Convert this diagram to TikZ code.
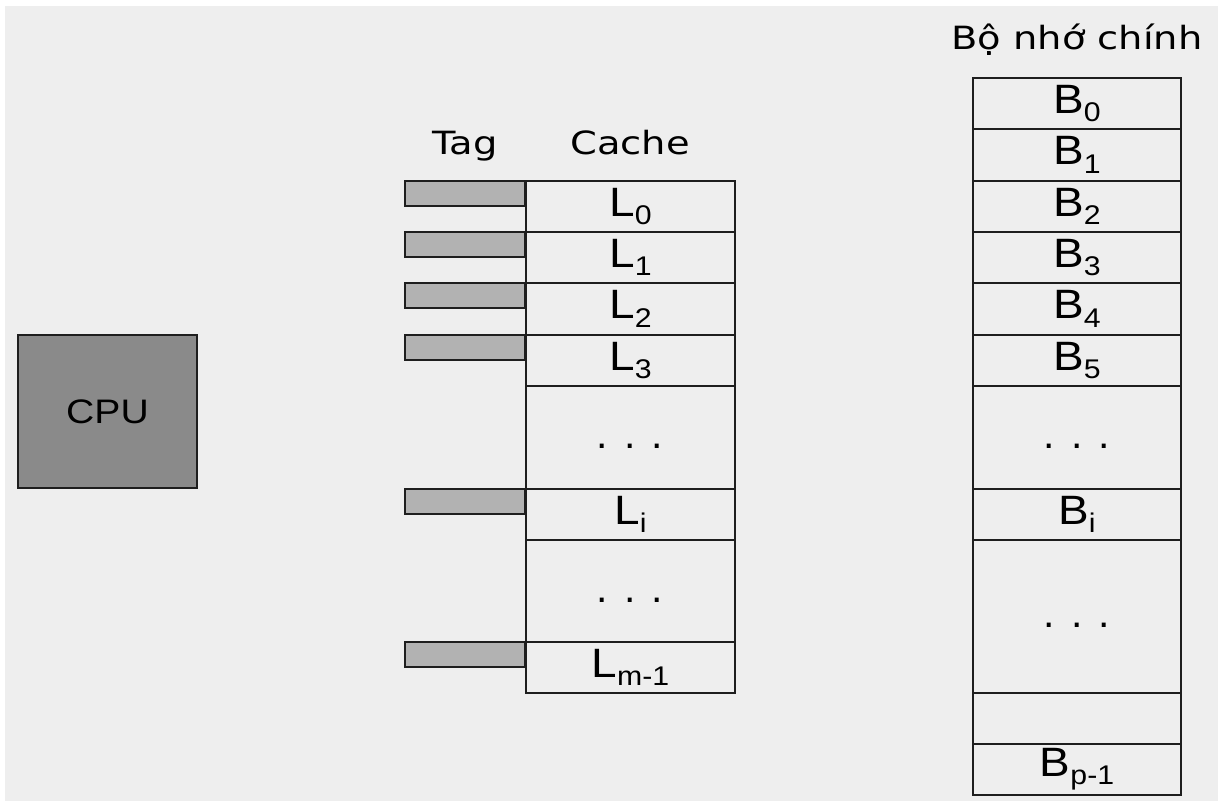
\documentclass[tikz,border=0pt]{standalone}
\usepackage{fontspec}
\usepackage{graphicx}
\setmainfont{Liberation Sans}
\newfontfamily\hdfont{DejaVu Sans}
\definecolor{bgc}{HTML}{EEEEEE}
\definecolor{tagc}{HTML}{B2B2B2}
\definecolor{cpuc}{HTML}{8A8A8A}
\definecolor{linec}{HTML}{1E1E1E}
\newcommand{\lbl}[2]{\scalebox{1.12}[1]{#1\raisebox{-0.2em}{\fontsize{13.5}{14}\selectfont #2}}}
\newcommand{\hd}[1]{\scalebox{1.2}[1]{\hdfont\fontsize{16}{18}\selectfont #1}}
\newcommand{\dotsrow}{.\hspace{8pt}.\hspace{8pt}.}
\begin{document}
\begin{tikzpicture}[x=0.5pt,y=-0.5pt,
  cell/.style={draw=linec, line width=1.1pt, fill=bgc, inner sep=0pt, outer sep=0pt,
    font=\fontsize{20.5}{21}\selectfont},
  ccell/.style={cell, minimum width=104.5pt},
  mcell/.style={cell, minimum width=104pt},
  tagbox/.style={draw=linec, line width=1.1pt, fill=tagc, inner sep=0pt, outer sep=0pt,
    minimum width=60pt, minimum height=12.5pt},
  dts/.style={inner sep=0pt, anchor=base, font=\fontsize{20.5}{21}\selectfont},
  head/.style={inner sep=0pt, anchor=base}
]
\useasboundingbox (0,0) rectangle (1222,801);
\fill[white] (0,0) rectangle (1222,801);
\fill[bgc] (5,6) rectangle (1218,801);

% CPU
\node[draw=linec, line width=1.1pt, fill=cpuc, minimum width=89.5pt, minimum height=76.5pt,
  inner sep=0pt, font=\fontsize{17}{18}\selectfont] (cpu) at (107.5,411.5) {\scalebox{1.15}[1]{CPU}};

% headers
\node[head] (tag) at (465,155) {\hd{Tag}};
\node[head] (cache) at (630,155) {\hd{Cache}};
\node[head] (mem) at (1077,50) {\hd{Bộ nhớ chính}};

% cache lines
\node[ccell, minimum height=25.5pt] (L0) at (630.5,206.5) {\lbl{L}{0}};
\node[ccell, minimum height=25.5pt] (L1) at (630.5,257.5) {\lbl{L}{1}};
\node[ccell, minimum height=26pt] (L2) at (630.5,309) {\lbl{L}{2}};
\node[ccell, minimum height=25.5pt] (L3) at (630.5,360.5) {\lbl{L}{3}};
\node[ccell, minimum height=51.5pt] (C1) at (630.5,437.5) {};
\node[ccell, minimum height=25.5pt] (Li) at (630.5,514.5) {\lbl{L}{i}};
\node[ccell, minimum height=51pt] (C2) at (630.5,591) {};
\node[ccell, minimum height=25.5pt] (Lm) at (630.5,667.5) {\lbl{L}{m-1}};
\node[dts] (cd1) at (630,449) {\dotsrow};
\node[dts] (cd2) at (630,603) {\dotsrow};

% tags
\node[tagbox] (T0) at (465,193.5) {};
\node[tagbox] (T1) at (465,244.5) {};
\node[tagbox] (T2) at (465,295.5) {};
\node[tagbox] (T3) at (465,347.5) {};
\node[tagbox] (Ti) at (465,501.5) {};
\node[tagbox] (Tm) at (465,654.5) {};

% main memory
\node[mcell, minimum height=25.5pt] (B0) at (1077,103.5) {\lbl{B}{0}};
\node[mcell, minimum height=26pt] (B1) at (1077,155) {\lbl{B}{1}};
\node[mcell, minimum height=25.5pt] (B2) at (1077,206.5) {\lbl{B}{2}};
\node[mcell, minimum height=25.5pt] (B3) at (1077,257.5) {\lbl{B}{3}};
\node[mcell, minimum height=26pt] (B4) at (1077,309) {\lbl{B}{4}};
\node[mcell, minimum height=25.5pt] (B5) at (1077,360.5) {\lbl{B}{5}};
\node[mcell, minimum height=51.5pt] (M1) at (1077,437.5) {};
\node[mcell, minimum height=25.5pt] (Bi) at (1077,514.5) {\lbl{B}{i}};
\node[mcell, minimum height=76.5pt] (M2) at (1077,616.5) {};
\node[mcell, minimum height=25.5pt] (Be) at (1077,718.5) {};
\node[mcell, minimum height=25.5pt] (Bp) at (1077,769.5) {\lbl{B}{p-1}};
\node[dts] (md1) at (1077,449) {\dotsrow};
\node[dts] (md2) at (1077,628) {\dotsrow};
\end{tikzpicture}
\end{document}
